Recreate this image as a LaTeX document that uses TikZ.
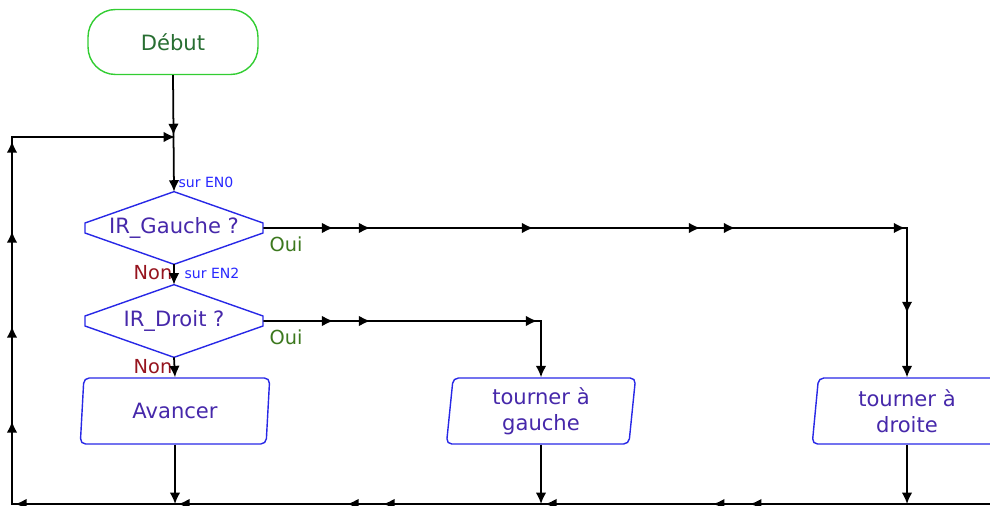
\documentclass[tikz,border=0pt]{standalone}
\usepackage{fontspec}
\setmainfont{DejaVu Sans}
\usetikzlibrary{shapes.geometric,arrows.meta,decorations.markings}

\definecolor{startline}{RGB}{50,205,50}
\definecolor{starttext}{RGB}{40,110,50}
\definecolor{boxline}{RGB}{40,40,230}
\definecolor{boxtext}{RGB}{70,40,170}
\definecolor{portblue}{RGB}{40,40,255}
\definecolor{ouigreen}{RGB}{60,120,30}
\definecolor{nonred}{RGB}{150,20,30}

\tikzset{
  flow/.style={line width=1pt, -{Latex[length=6.5pt,width=6pt]}},
  tipat/.style={postaction={decorate, decoration={markings,
      mark=at position #1 with {\arrow{Latex[length=6.5pt,width=6pt]}}}}},
  startbox/.style={draw=startline, line width=0.8pt, rectangle, rounded corners=0.55cm,
      minimum width=3.4cm, minimum height=1.3cm, text=starttext, font=\fontsize{12}{14}\selectfont},
  testbox/.style={rectangle, inner sep=0pt, minimum width=3.56cm, minimum height=1.44cm,
      text=boxtext, font=\fontsize{12}{14}\selectfont},
  testline/.style={draw=boxline, line width=0.8pt},
  actbox/.style={draw=boxline, line width=0.8pt, trapezium, trapezium left angle=86,
      trapezium right angle=94, trapezium stretches=true, rounded corners=3pt,
      minimum width=3.8cm, minimum height=1.32cm, align=center, text=boxtext,
      font=\fontsize{12}{15}\selectfont},
  port/.style={text=portblue, font=\fontsize{8}{9}\selectfont},
  oui/.style={text=ouigreen, font=\fontsize{11}{12}\selectfont},
  non/.style={text=nonred, font=\fontsize{11}{12}\selectfont}
}

\begin{document}
\begin{tikzpicture}[x=0.02cm, y=-0.02cm]
  \useasboundingbox (0,0) rectangle (990,506);

  % blocks
  \node[startbox] (debut) at (173,42) {Début};
  \node[testbox] (irg) at (174,228) {IR\_Gauche ?};
  \node[testbox] (ird) at (174,321) {IR\_Droit ?};
  \node[actbox] (avancer) at (175,411) {Avancer};
  \node[actbox] (tgauche) at (541,411) {tourner à\\gauche};
  \node[actbox] (tdroite) at (907,411) {tourner à\\droite};

  % hexagonal outline of the tests
  \foreach \t in {irg,ird}
    \draw[testline] ([shift={(-89,-5)}]\t.center) -- (\t.north) -- ([shift={(89,-5)}]\t.center)
      -- ([shift={(89,5)}]\t.center) -- (\t.south) -- ([shift={(-89,5)}]\t.center) -- cycle;

  % labels
  \node[port] (en0) at (206,182) {sur EN0};
  \node[port] (en2) at (212,273) {sur EN2};
  \node[oui] (oui1) at (286,244) {Oui};
  \node[oui] (oui2) at (286,337) {Oui};
  \node[non] (non1) at (153,273) {Non};
  \node[non] (non2) at (153,367) {Non};

  % loop corners
  \coordinate (join) at (175,137);
  \coordinate (tl) at (12,137);
  \coordinate (bl) at (12,504);
  \coordinate (br) at (990,504);
  \coordinate (cg) at (907,228);
  \coordinate (cd) at (541,321);

  % connectors
  \draw[flow, tipat=1.2cm] (debut.south) -- (irg.north);
  \draw[flow] (irg.south) -- (ird.north);
  \draw[flow] (ird.south) -- (avancer.north);
  \draw[flow, tipat/.list={1.4cm,2.14cm,5.4cm,8.74cm,9.44cm,12.84cm,14.58cm}]
    (irg.east) -- (cg) -- (tdroite.north);
  \draw[flow, tipat/.list={1.4cm,2.14cm,5.48cm}]
    (ird.east) -- (cd) -- (tgauche.north);
  \draw[flow] (avancer.south) -- (avancer.south |- bl);
  \draw[flow] (tgauche.south) -- (tgauche.south |- bl);
  \draw[flow] (tdroite.south) -- (tdroite.south |- bl);
  \draw[flow, tipat/.list={4.8cm,5.54cm,8.9cm,12.14cm,12.86cm,16.24cm,19.5cm,21.22cm,23.12cm,25.02cm,26.82cm}]
    (br) -- (bl) -- (tl) -- (join);
\end{tikzpicture}
\end{document}
